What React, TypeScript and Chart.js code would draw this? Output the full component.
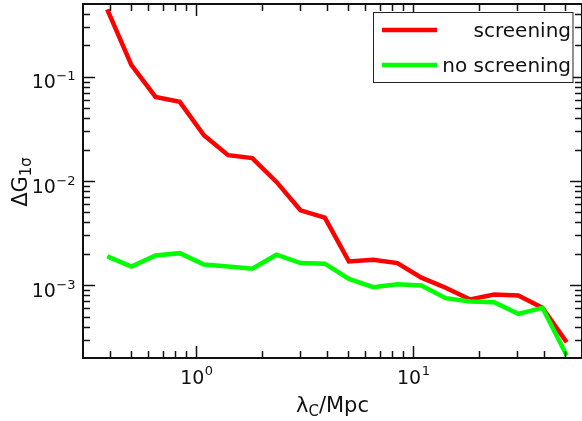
import React, { useEffect, useRef } from "react";
import { Chart, registerables } from "chart.js";

Chart.register(...registerables);

// ---- data ----
const lambdaC = [0.388, 0.501, 0.648, 0.838, 1.083, 1.4, 1.81, 2.34, 3.02, 3.91, 5.05, 6.53, 8.45, 10.9, 14.1, 18.3, 23.6, 30.5, 39.4, 51.0];
const screening = [0.445, 0.13, 0.0642, 0.0575, 0.0275, 0.0177, 0.0166, 0.0098, 0.00523, 0.00445, 0.00169, 0.00175, 0.00163, 0.00118, 0.000944, 0.000729, 0.000814, 0.000796, 0.000607, 0.000283];
const noScreening = [0.00189, 0.00151, 0.00193, 0.00203, 0.00158, 0.00151, 0.00144, 0.00196, 0.00163, 0.00161, 0.00115, 0.000957, 0.00102, 0.000994, 0.00075, 0.000697, 0.000687, 0.000531, 0.000607, 0.000211];
const seriesLabels = ["screening", "no screening"];
const seriesColors = ["#ff0000", "#00ff00"];
const xTickExponents = ["0", "1"];
const yTickExponents = ["\u22121", "\u22122", "\u22123"];
const xRange = [0.3, 60];
const yRange = [2e-4, 0.5];

const FONT = "'DejaVu Sans', sans-serif";

function minorValues(min: number, max: number): number[] {
  const out: number[] = [];
  const e0 = Math.floor(Math.log10(min));
  const e1 = Math.ceil(Math.log10(max));
  for (let e = e0; e <= e1; e++) {
    for (let m = 1; m <= 9; m++) {
      const v = m * Math.pow(10, e);
      if (v > min * 1.0001 && v < max * 0.9999) out.push(v);
    }
  }
  return out;
}

const decorPlugin = {
  id: "decor",
  afterDatasetsDraw(chart: any) {
    const ctx = chart.ctx as CanvasRenderingContext2D;
    const { left, right, top, bottom } = chart.chartArea;
    const xs = chart.scales.x;
    const ys = chart.scales.y;
    ctx.save();
    ctx.strokeStyle = "#111";
    ctx.fillStyle = "#111";

    // ticks
    ctx.lineWidth = 1.5;
    const MAJ = 12;
    const MIN = 7;
    for (const v of minorValues(xRange[0], xRange[1])) {
      const isMaj = Math.abs(Math.log10(v) - Math.round(Math.log10(v))) < 1e-9;
      const L = isMaj ? MAJ : MIN;
      const px = Math.round(xs.getPixelForValue(v)) + 0.5;
      ctx.beginPath();
      ctx.moveTo(px, bottom);
      ctx.lineTo(px, bottom - L);
      ctx.moveTo(px, top);
      ctx.lineTo(px, top + L);
      ctx.stroke();
    }
    for (const v of minorValues(yRange[0], yRange[1])) {
      const isMaj = Math.abs(Math.log10(v) - Math.round(Math.log10(v))) < 1e-9;
      const L = isMaj ? MAJ : MIN;
      const py = Math.round(ys.getPixelForValue(v)) + 0.5;
      ctx.beginPath();
      ctx.moveTo(left, py);
      ctx.lineTo(left + L, py);
      ctx.moveTo(right, py);
      ctx.lineTo(right - L, py);
      ctx.stroke();
    }

    // spines
    ctx.lineWidth = 2;
    ctx.strokeRect(left, top, right - left, bottom - top);

    // tick labels
    const baseFont = `19px ${FONT}`;
    const expFont = `13px ${FONT}`;
    ctx.textAlign = "left";
    ctx.textBaseline = "alphabetic";
    xTickExponents.forEach((ex) => {
      const v = Math.pow(10, Number(ex.replace("\u2212", "-")));
      const px = xs.getPixelForValue(v);
      ctx.font = baseFont;
      const w1 = ctx.measureText("10").width;
      ctx.font = expFont;
      const w2 = ctx.measureText(ex).width;
      const x0 = px - (w1 + w2) / 2;
      ctx.font = baseFont;
      ctx.fillText("10", x0, 384);
      ctx.font = expFont;
      ctx.fillText(ex, x0 + w1 + 0.5, 375);
    });
    yTickExponents.forEach((ex) => {
      const v = Math.pow(10, Number(ex.replace("\u2212", "-")));
      const py = ys.getPixelForValue(v);
      ctx.font = baseFont;
      const w1 = ctx.measureText("10").width;
      ctx.font = expFont;
      const w2 = ctx.measureText(ex).width;
      const x0 = left - 8 - (w1 + w2);
      ctx.font = baseFont;
      ctx.fillText("10", x0, py + 11.5);
      ctx.font = expFont;
      ctx.fillText(ex, x0 + w1 + 0.5, py + 3.5);
    });

    // x axis title: λ_C/Mpc
    {
      const big = `21px ${FONT}`;
      const small = `15px ${FONT}`;
      ctx.font = big;
      const a = ctx.measureText("\u03bb").width;
      const c = ctx.measureText("/Mpc").width;
      ctx.font = small;
      const b = ctx.measureText("C").width;
      const total = a + b + c;
      const cx = (left + right) / 2;
      let x = cx - total / 2;
      const base = 412;
      ctx.font = big;
      ctx.fillText("\u03bb", x, base);
      x += a;
      ctx.font = small;
      ctx.fillText("C", x, base + 4);
      x += b;
      ctx.font = big;
      ctx.fillText("/Mpc", x, base);
    }

    // y axis title: ΔG_1σ
    {
      const big = `21px ${FONT}`;
      const small = `15px ${FONT}`;
      ctx.save();
      ctx.translate(27, (top + bottom) / 2 + 1);
      ctx.rotate(-Math.PI / 2);
      ctx.font = big;
      const a = ctx.measureText("\u0394G").width;
      ctx.font = small;
      const b = ctx.measureText("1\u03c3").width;
      const total = a + b;
      let x = -total / 2;
      ctx.font = big;
      ctx.fillText("\u0394G", x, 0);
      x += a;
      ctx.font = small;
      ctx.fillText("1\u03c3", x, 4);
      ctx.restore();
    }

    // legend
    {
      const bx = 373.5;
      const by = 12.5;
      const bw = 199.5;
      const bh = 70;
      ctx.fillStyle = "#fff";
      ctx.fillRect(bx, by, bw, bh);
      ctx.lineWidth = 1;
      ctx.strokeStyle = "#222";
      ctx.strokeRect(bx, by, bw, bh);
      const rows = [30, 65];
      chart.data.datasets.forEach((ds: any, i: number) => {
        const y = rows[i];
        ctx.strokeStyle = ds.borderColor;
        ctx.lineWidth = 4.5;
        ctx.beginPath();
        ctx.moveTo(382, y);
        ctx.lineTo(437, y);
        ctx.stroke();
        ctx.fillStyle = "#111";
        ctx.font = `20px ${FONT}`;
        ctx.textAlign = "right";
        ctx.fillText(ds.label, 571, y + 7);
        ctx.textAlign = "left";
      });
    }
    ctx.restore();
  },
};

export default function App() {
  const ref = useRef<HTMLCanvasElement>(null);
  useEffect(() => {
    document.body.style.margin = "0";
    const canvas = ref.current!;
    const chart = new Chart(canvas, {
      type: "line",
      data: {
        datasets: [
          {
            label: seriesLabels[0],
            data: lambdaC.map((x, i) => ({ x, y: screening[i] })),
            borderColor: seriesColors[0],
            backgroundColor: seriesColors[0],
            borderWidth: 4.5,
            pointRadius: 0,
            tension: 0,
            clip: 0,
            order: 1,
          },
          {
            label: seriesLabels[1],
            data: lambdaC.map((x, i) => ({ x, y: noScreening[i] })),
            borderColor: seriesColors[1],
            backgroundColor: seriesColors[1],
            borderWidth: 4.5,
            pointRadius: 0,
            tension: 0,
            clip: 0,
            order: 0,
          },
        ],
      },
      options: {
        animation: false,
        responsive: false,
        maintainAspectRatio: false,
        devicePixelRatio: 1,
        layout: { padding: { top: 4, right: 0, bottom: 0, left: 0 } },
        plugins: {
          legend: { display: false },
          tooltip: { enabled: false },
          title: { display: false },
        },
        scales: {
          x: {
            type: "logarithmic",
            min: xRange[0],
            max: xRange[1],
            ticks: { display: false },
            grid: { display: false },
            border: { display: false },
            afterFit: (s: any) => {
              s.height = 63;
            },
          },
          y: {
            type: "logarithmic",
            min: yRange[0],
            max: yRange[1],
            ticks: { display: false },
            grid: { display: false },
            border: { display: false },
            afterFit: (s: any) => {
              s.width = 83;
            },
          },
        },
      } as any,
      plugins: [decorPlugin],
    });
    return () => chart.destroy();
  }, []);
  return (
    <div style={{ position: "fixed", left: 0, top: 0, width: 582, height: 421, background: "#fff" }}>
      <canvas ref={ref} width={582} height={421} style={{ display: "block" }} />
    </div>
  );
}
